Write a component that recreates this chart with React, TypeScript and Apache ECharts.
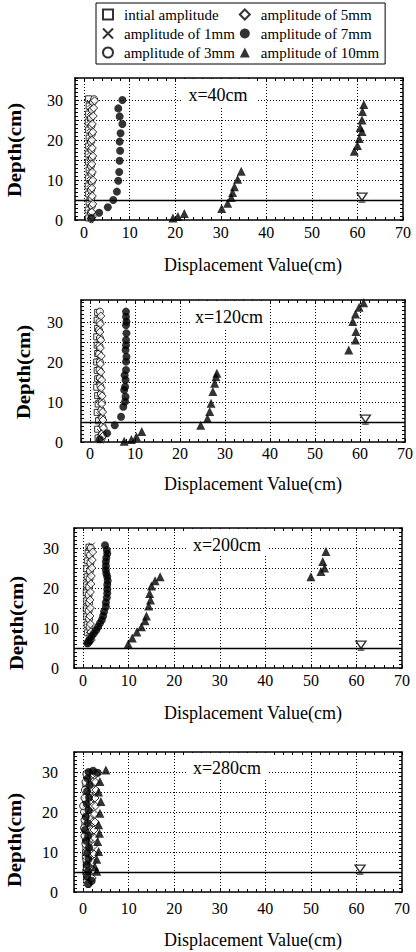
import React, { useEffect, useRef } from 'react';
import * as echarts from 'echarts';

const FONT = "'Liberation Serif', 'Times New Roman', Times, serif";

// ---- names / labels ----
const seriesNames = [
  'intial amplitude',
  'amplitude of 1mm',
  'amplitude of 3mm',
  'amplitude of 5mm',
  'amplitude of 7mm',
  'amplitude of 10mm',
];
const panelLabels = ['x=40cm', 'x=120cm', 'x=200cm', 'x=280cm'];
const xTickLabels = [0, 10, 20, 30, 40, 50, 60, 70];
const yTickLabels = [0, 10, 20, 30];
const xGridValues = [0, 10, 20, 30, 40, 50, 60];
const yGridValues = [10, 15, 20, 25, 30];
const waterLevelDepth = 5;
const xRange = [-2, 70];
const yMaxes = [35.5, 35.5, 35, 35];
const xTitle = 'Displacement Value(cm)';
const yTitle = 'Depth(cm)';

// ---- panel 1 : x=40cm  ([displacement, depth]) ----
const p1Initial = [[1.0,0.5],[0.9,2.5],[1.1,4.5],[1.0,6.5],[0.9,8.5],[1.0,10.5],[1.1,12.5],[1.0,14.5],[0.9,16.5],[1.0,18.5],[1.1,20.5],[1.0,22.5],[0.9,24.5],[1.0,26.5],[1.1,28.5],[1.0,30.3]];
const p1Amp1 = [[1.3,1.0],[1.2,3.0],[1.4,5.0],[1.3,7.0],[1.2,9.0],[1.3,11.0],[1.4,13.0],[1.3,15.0],[1.2,17.0],[1.3,19.0],[1.4,21.0],[1.3,23.0],[1.2,25.0],[1.3,27.0],[1.4,29.0]];
const p1Amp3 = [[1.6,0.2],[1.5,1.8],[1.7,3.5],[1.6,5.5],[1.5,7.5],[1.7,9.5],[1.6,11.5],[1.5,13.5],[1.7,15.5],[1.6,17.5],[1.5,19.5],[1.7,21.5],[1.6,23.5],[1.5,25.5],[1.7,27.5],[1.9,29.5],[2.2,30.2]];
const p1Amp5 = [[1.8,0.8],[1.7,2.0],[1.9,4.0],[1.8,6.0],[1.7,8.0],[1.9,10.0],[1.8,12.0],[1.7,14.0],[1.9,16.0],[1.8,18.0],[1.7,20.0],[1.9,22.0],[1.8,24.0],[2.0,26.0],[2.1,28.0],[2.3,29.8]];
const p1Amp7 = [[1.6,0.5],[3.3,1.8],[5.2,3.2],[6.4,5.0],[7.2,7.1],[7.5,9.8],[7.7,12.0],[7.8,14.8],[7.9,17.3],[7.8,19.6],[8.0,21.7],[8.4,24.0],[7.8,25.9],[7.5,27.9],[8.4,30.0]];
const p1Amp10 = [[19.5,0.5],[20.6,0.9],[22.0,1.6],[30.2,2.9],[31.5,4.2],[32.3,5.6],[32.6,6.9],[33.0,8.3],[33.7,10.2],[34.5,12.2],[59.3,17.2],[60.0,18.6],[60.4,20.4],[61.0,22.1],[60.6,23.1],[61.0,25.0],[61.1,27.1],[61.4,28.9]];
const p1Water = [[61.0, 5.6]];

// ---- panel 2 : x=120cm ----
const p2Initial = [[1.8,1.0],[1.7,3.2],[1.9,5.3],[1.6,7.4],[1.8,9.5],[1.7,11.6],[1.5,13.7],[1.7,15.8],[1.6,17.9],[1.5,20.0],[1.7,22.1],[1.6,24.2],[1.5,26.3],[1.7,28.4],[1.6,30.5],[1.7,32.4]];
const p2Amp1 = [[2.3,0.4],[2.2,2.5],[2.4,4.6],[2.1,6.7],[2.3,8.8],[2.0,10.9],[2.2,13.0],[1.9,15.1],[2.1,17.2],[1.9,19.3],[2.0,21.4],[1.8,23.5],[2.0,25.6],[1.9,27.7],[2.1,29.8],[2.0,31.8]];
const p2Amp3 = [[2.6,0.8],[2.7,2.0],[2.8,4.0],[2.7,6.0],[2.5,8.0],[2.6,10.0],[2.4,12.0],[2.3,14.0],[2.2,16.0],[2.1,18.0],[2.2,20.0],[2.0,22.0],[2.1,24.0],[2.2,26.0],[2.0,28.0],[2.1,30.0],[2.2,32.6]];
const p2Amp5 = [[2.9,1.5],[3.0,3.5],[2.9,5.5],[2.8,7.5],[2.6,9.5],[2.7,11.5],[2.5,13.5],[2.6,15.5],[2.4,17.5],[2.3,19.5],[2.5,21.5],[2.3,23.5],[2.4,25.5],[2.2,27.5],[2.3,29.5],[2.4,31.5]];
const p2Amp7 = [[2.2,0.7],[3.8,2.2],[5.5,4.2],[6.9,6.3],[7.4,8.8],[7.8,10.1],[7.9,11.3],[7.6,13.0],[7.8,13.8],[7.9,15.5],[7.7,16.7],[8.0,18.0],[8.0,20.1],[8.1,21.3],[7.9,23.0],[8.0,24.2],[8.0,25.5],[8.1,27.2],[8.0,29.2],[8.1,30.1],[8.0,31.3],[8.0,32.6]];
const p2Amp10 = [[7.6,0.2],[9.2,0.6],[10.3,1.3],[11.5,2.6],[24.6,4.2],[26.1,5.9],[26.6,7.6],[26.9,9.7],[27.3,12.6],[27.7,14.7],[28.0,16.3],[28.2,17.2],[57.5,23.0],[59.0,25.5],[59.1,27.6],[58.4,30.1],[59.0,32.0],[59.8,33.7],[60.8,34.8]];
const p2Water = [[61.2, 5.6]];

// ---- panel 3 : x=200cm ----
const p3Initial = [[1.3,6.8],[1.0,8.8],[0.9,10.8],[0.8,12.8],[0.7,14.8],[0.8,16.8],[0.7,18.8],[0.8,20.8],[0.9,22.8],[0.8,24.8],[1.0,26.8],[1.1,28.8],[1.3,30.2]];
const p3Amp1 = [[1.5,7.5],[1.3,9.5],[1.2,11.5],[1.1,13.5],[1.0,15.5],[1.1,17.5],[1.0,19.5],[1.1,21.5],[1.2,23.5],[1.3,25.5],[1.4,27.5],[1.6,29.5],[1.9,30.6]];
const p3Amp3 = [[1.1,6.2],[1.6,8.2],[1.4,10.2],[1.3,12.2],[1.2,14.2],[1.3,16.2],[1.2,18.2],[1.3,20.2],[1.4,22.2],[1.5,24.2],[1.6,26.2],[1.5,28.2],[1.7,30.0]];
const p3Amp5 = [[1.8,7.0],[1.7,9.0],[1.6,11.0],[1.5,13.0],[1.6,15.0],[1.5,17.0],[1.6,19.0],[1.7,21.0],[1.8,23.0],[1.9,25.0],[2.0,27.0],[2.1,29.0]];
const p3Amp7 = [[0.9,6.2],[1.2,6.6],[1.5,7.0],[1.9,8.0],[2.4,8.7],[2.9,9.5],[3.3,10.3],[3.7,11.2],[4.1,12.0],[4.4,13.0],[4.6,14.1],[5.0,15.3],[5.0,16.4],[5.2,17.6],[5.3,18.7],[5.3,19.7],[5.3,20.8],[5.4,21.8],[5.3,22.8],[5.1,23.6],[5.0,24.5],[5.0,25.5],[5.0,26.6],[5.1,27.6],[5.3,28.6],[5.2,29.5],[4.8,30.7]];
const p3Amp10 = [[9.9,6.0],[10.8,7.5],[11.8,9.0],[12.8,10.3],[13.6,11.8],[13.9,13.0],[14.4,15.5],[14.8,17.0],[14.6,18.6],[15.0,20.5],[15.8,21.8],[16.9,22.8],[50.0,22.8],[52.2,24.1],[53.0,25.0],[52.6,26.6],[53.3,29.1]];
const p3Water = [[61.0, 5.6]];

// ---- panel 4 : x=280cm ----
const p4Initial = [[0.8,3.0],[0.6,5.0],[0.7,7.0],[0.5,9.0],[0.6,11.0],[0.5,13.0],[0.6,15.0],[0.4,17.0],[0.5,19.0],[0.6,21.0],[0.5,23.0],[0.7,25.0],[0.6,27.0],[0.8,29.0]];
const p4Amp1 = [[1.5,2.5],[1.6,4.5],[1.8,6.5],[1.7,8.5],[1.9,10.5],[1.8,12.5],[2.0,14.5],[1.9,16.5],[2.1,18.5],[2.0,20.5],[2.2,22.5],[2.1,24.5],[2.3,26.5],[2.2,28.5],[2.0,30.0]];
const p4Amp3 = [[1.0,2.0],[0.9,4.0],[0.8,6.0],[0.7,8.0],[0.6,10.0],[0.5,12.0],[0.3,14.0],[0.2,16.0],[0.3,18.0],[0.2,20.0],[0.0,21.5],[0.3,23.5],[0.4,25.5],[0.5,27.5],[0.7,29.5]];
const p4Amp5 = [[2.0,3.5],[2.2,5.5],[2.1,7.5],[2.4,9.5],[2.3,11.5],[2.5,13.5],[2.4,15.5],[2.6,17.5],[2.5,19.5],[2.7,21.5],[2.6,23.5],[2.8,25.5],[2.7,27.5],[2.9,29.5]];
const p4Amp7 = [[1.2,2.0],[1.9,2.8],[0.9,3.8],[1.1,5.2],[0.8,6.8],[1.2,8.2],[0.9,9.8],[1.3,11.2],[0.7,12.8],[1.1,14.0],[0.4,15.5],[1.0,17.2],[0.6,18.8],[1.2,20.4],[0.8,22.0],[1.3,23.6],[0.9,25.2],[1.4,26.8],[1.0,28.4],[1.2,30.0],[2.2,30.3],[3.2,29.8]];
const p4Amp10 = [[3.0,5.2],[2.6,6.3],[3.0,8.2],[3.4,10.1],[3.2,12.6],[3.6,14.7],[3.4,16.8],[3.7,19.7],[3.9,22.6],[3.4,25.0],[3.7,27.6],[5.0,30.5]];
const p4Water = [[60.8, 5.6]];

const panelSeries = [
  [p1Initial, p1Amp1, p1Amp3, p1Amp5, p1Amp7, p1Amp10],
  [p2Initial, p2Amp1, p2Amp3, p2Amp5, p2Amp7, p2Amp10],
  [p3Initial, p3Amp1, p3Amp3, p3Amp5, p3Amp7, p3Amp10],
  [p4Initial, p4Amp1, p4Amp3, p4Amp5, p4Amp7, p4Amp10],
];
const panelWater = [p1Water, p2Water, p3Water, p4Water];

// ---- layout & styles (not data) ----
const PLOT_W = 328;
const layouts = [
  { left: 75, top: 78, height: 142, yLabelMargin: 12, xLabelMargin: 4, depthX: 15, depthY: 150, titleY: 265, tagX: 218, tagY: 95, boxL: 181, boxR: 256 },
  { left: 81, top: 300, height: 142, yLabelMargin: 18, xLabelMargin: 3, depthX: 24, depthY: 372, titleY: 484, tagX: 229, tagY: 317, boxL: 192, boxR: 268 },
  { left: 74, top: 528, height: 140, yLabelMargin: 15, xLabelMargin: 4, depthX: 17, depthY: 623, titleY: 713, tagX: 227, tagY: 545, boxL: 188, boxR: 269 },
  { left: 74, top: 752, height: 140, yLabelMargin: 16, xLabelMargin: 8, depthX: 15, depthY: 840, titleY: 940, tagX: 227, tagY: 768, boxL: 188, boxR: 269 },
];

const markerStyles = [
  { symbol: 'rect', size: 6, open: true },
  { symbol: 'path://M0,0L10,10M10,0L0,10', size: 6, open: true },
  { symbol: 'circle', size: 7, open: true },
  { symbol: 'diamond', size: 8, open: true },
  { symbol: 'circle', size: 8, open: false },
  { symbol: 'triangle', size: 9, open: false },
];

function buildOption() {
  const grid: any[] = [];
  const xAxis: any[] = [];
  const yAxis: any[] = [];
  const series: any[] = [];
  const graphic: any[] = [];

  layouts.forEach((L, i) => {
    grid.push({ left: L.left, top: L.top, width: PLOT_W, height: L.height, containLabel: false });
    const frameLine = { show: true, onZero: false, lineStyle: { color: '#000', width: 1.5 } };
    const tick = { show: true, inside: true, length: 3, lineStyle: { color: '#000', width: 1 } };
    xAxis.push({
      type: 'value', gridIndex: i, position: 'bottom', min: xRange[0], max: xRange[1], interval: 2,
      axisLine: frameLine, axisTick: tick, splitLine: { show: false },
      axisLabel: {
        margin: L.xLabelMargin, color: '#000', fontFamily: FONT, fontSize: 16,
        formatter: (v: number) => (xTickLabels.includes(v) ? String(v) : ''),
      },
    });
    xAxis.push({
      type: 'value', gridIndex: i, position: 'top', min: xRange[0], max: xRange[1], interval: 2,
      axisLine: frameLine, axisTick: tick, splitLine: { show: false }, axisLabel: { show: false },
    });
    yAxis.push({
      type: 'value', gridIndex: i, position: 'left', min: 0, max: yMaxes[i], interval: 1,
      axisLine: frameLine, axisTick: tick, splitLine: { show: false },
      axisLabel: {
        margin: L.yLabelMargin, color: '#000', fontFamily: FONT, fontSize: 16,
        formatter: (v: number) => (yTickLabels.includes(v) ? String(v) : ''),
      },
    });
    yAxis.push({
      type: 'value', gridIndex: i, position: 'right', min: 0, max: yMaxes[i], interval: 1,
      axisLine: frameLine, axisTick: tick, splitLine: { show: false }, axisLabel: { show: false },
    });

    const xi = i * 2;
    const yi = i * 2;

    series.push({
      type: 'line', name: 'grid' + i, data: [], xAxisIndex: xi, yAxisIndex: yi, z: 1, silent: true,
      markLine: {
        silent: true, symbol: ['none', 'none'], label: { show: false }, animation: false,
        lineStyle: { color: '#000', type: [1, 2], width: 1 },
        emphasis: { disabled: true },
        data: [
          ...xGridValues.map((v) => ({ xAxis: v })),
          ...yGridValues.map((v) => ({ yAxis: v })),
          { yAxis: waterLevelDepth, lineStyle: { type: 'solid', width: 1.3, color: '#000' } },
        ],
      },
    });

    panelSeries[i].forEach((data, k) => {
      const m = markerStyles[k];
      series.push({
        type: 'scatter', name: seriesNames[k], data, xAxisIndex: xi, yAxisIndex: yi,
        symbol: m.symbol, symbolSize: m.size, z: 3 + k,
        itemStyle: m.open
          ? { color: '#fff', borderColor: '#000', borderWidth: 1 }
          : { color: '#000', borderColor: '#000', borderWidth: 0 },
        emphasis: { disabled: true },
      });
    });

    series.push({
      type: 'scatter', name: 'water level', data: panelWater[i], xAxisIndex: xi, yAxisIndex: yi,
      symbol: 'path://M0,0L12,0L6,9ZM2,11L10,11', symbolSize: [10, 9], z: 10,
      itemStyle: { color: '#fff', borderColor: '#000', borderWidth: 1.4 },
      emphasis: { disabled: true },
    });

    graphic.push({
      type: 'rect', z: 50, silent: true,
      shape: { x: L.boxL, y: L.top + 1, width: L.boxR - L.boxL, height: L.tagY + 11 - (L.top + 1) },
      style: { fill: '#fff' },
    });
    graphic.push({
      type: 'text', z: 51, x: L.tagX, y: L.tagY, silent: true,
      style: { text: panelLabels[i], fill: '#000', font: `18px ${FONT}`, align: 'center', verticalAlign: 'middle' },
    });
    graphic.push({
      type: 'text', z: 51, x: 253, y: L.titleY, silent: true,
      style: { text: xTitle, fill: '#000', font: `18px ${FONT}`, align: 'center', verticalAlign: 'middle' },
    });
    graphic.push({
      type: 'text', z: 51, x: L.depthX, y: L.depthY, rotation: Math.PI / 2, scaleX: 1.15, silent: true,
      style: { text: yTitle, fill: '#000', font: `bold 18px ${FONT}`, align: 'center', verticalAlign: 'middle' },
    });
  });

  return {
    animation: false,
    backgroundColor: '#fff',
    textStyle: { fontFamily: FONT },
    legend: {
      data: seriesNames,
      orient: 'vertical',
      left: 96, top: 3, height: 62,
      itemGap: 4, itemWidth: 10, itemHeight: 10,
      padding: [4, 6, 4, 6],
      borderColor: '#000', borderWidth: 1, backgroundColor: '#fff',
      selectedMode: false,
      textStyle: { fontFamily: FONT, fontSize: 15, color: '#000', padding: [0, 0, 0, 6] },
    },
    grid, xAxis, yAxis, series, graphic,
  };
}

export default function App() {
  const ref = useRef<HTMLDivElement>(null);
  useEffect(() => {
    if (!ref.current) return;
    const chart = echarts.init(ref.current, null, { renderer: 'svg' });
    chart.setOption(buildOption() as any);
    return () => chart.dispose();
  }, []);
  return (
    <div
      ref={ref}
      style={{ position: 'absolute', left: 0, top: 0, width: 416, height: 952, background: '#fff' }}
    />
  );
}
